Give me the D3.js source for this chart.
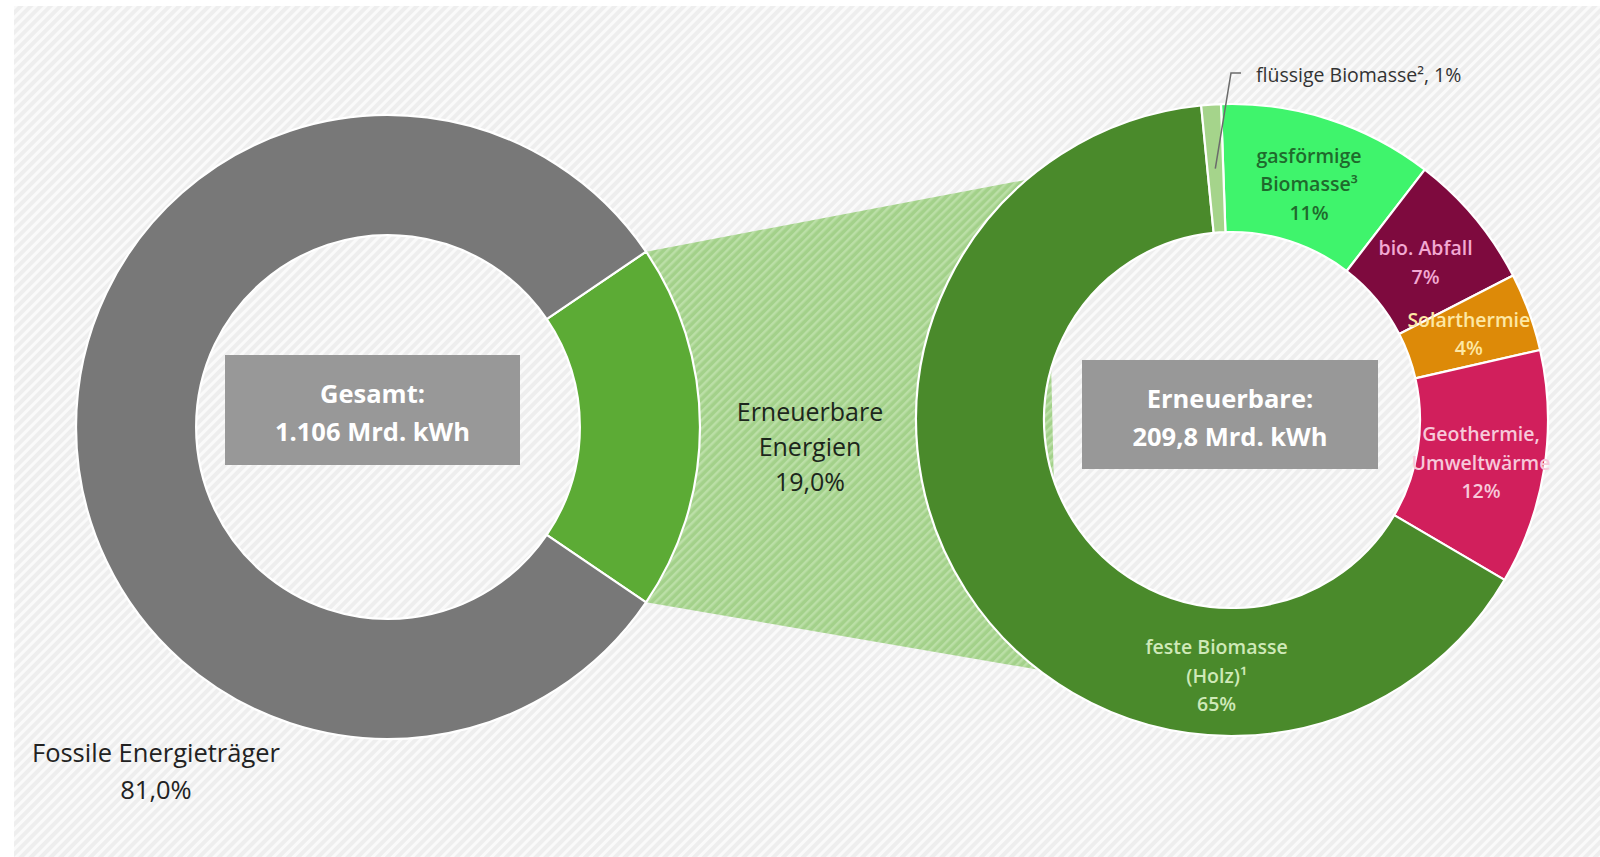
<!DOCTYPE html>
<html>
<head>
<meta charset="utf-8">
<script src="https://cdn.jsdelivr.net/npm/d3@7"></script>
<style>
  html, body { margin: 0; padding: 0; background: #ffffff; }
  svg { display: block; }
  text { font-family: "Open Sans", "Noto Sans", sans-serif; }
</style>
</head>
<body>
<svg id="chart" width="1600" height="857"></svg>
<script>
// Endenergieverbrauch für Wärme: Anteil der Erneuerbaren und ihre Zusammensetzung

// Gesamtverbrauch (Prozent)
const totalCategories = ["Erneuerbare Energien", "Fossile Energieträger"];
const totalShares = [19.0, 81.0];
const totalShareLabels = ["19,0%", "81,0%"];
const totalColors = ["#5cab35", "#787878"];
const totalCenterText = ["Gesamt:", "1.106 Mrd. kWh"];

// Erneuerbare Wärme nach Quelle (Prozent)
const renewableCategories = [
  "gasförmige Biomasse³", "bio. Abfall", "Solarthermie",
  "Geothermie, Umweltwärme", "feste Biomasse (Holz)¹", "flüssige Biomasse²"
];
const renewableShares = [11, 7, 4, 12, 65, 1];
const renewableNameLines = [
  ["gasförmige", "Biomasse³"],
  ["bio. Abfall"],
  ["Solarthermie"],
  ["Geothermie,", "Umweltwärme"],
  ["feste Biomasse", "(Holz)¹"],
  ["flüssige Biomasse²"]
];
const renewableShareLabels = ["11%", "7%", "4%", "12%", "65%", "1%"];
const renewableColors = ["#3ff46c", "#7e0a3e", "#dd8a08", "#d11f5c", "#4a8a2b", "#a5d48b"];
const renewableTextColors = ["#1f6a2c", "#f2a9d2", "#fde8a4", "#f7c9da", "#cfe9b8", "#333333"];
const renewableCenterText = ["Erneuerbare:", "209,8 Mrd. kWh"];

const svg = d3.select("#chart");
const defs = svg.append("defs");
const deg = Math.PI / 180;

// diagonal hatch patterns
function hatch(id, base, stripe, size, stripeWidth) {
  const p = defs.append("pattern")
    .attr("id", id)
    .attr("patternUnits", "userSpaceOnUse")
    .attr("width", size).attr("height", size)
    .attr("patternTransform", "rotate(45)");
  p.append("rect").attr("width", size).attr("height", size).attr("fill", base);
  p.append("rect").attr("width", stripeWidth).attr("height", size).attr("fill", stripe);
}
hatch("bgHatch", "#eeeeee", "#fafafa", 7, 3);
hatch("bridgeHatch", "#a3d18a", "#bbdfa7", 6, 2.5);

svg.append("rect").attr("width", 1600).attr("height", 857).attr("fill", "#ffffff");
svg.append("rect").attr("x", 14).attr("y", 6).attr("width", 1586).attr("height", 851)
  .attr("fill", "url(#bgHatch)");

// geometry
const left = { cx: 388, cy: 427, R: 312 };
left.r = left.R * 0.615;
const right = { cx: 1232, cy: 420, R: 316 };
right.r = right.R * 0.595;

// left donut: renewable slice centred on the right-hand side
const renewSpan = totalShares[0] / d3.sum(totalShares) * 2 * Math.PI;
const leftStart = Math.PI / 2 - renewSpan / 2;
const leftPie = d3.pie().sort(null).value(d => d)
  .startAngle(leftStart).endAngle(leftStart + 2 * Math.PI);
const leftArcs = leftPie(totalShares);
const leftArc = d3.arc().innerRadius(left.r).outerRadius(left.R);

// right donut
const rightStart = -2 * deg;
const rightPie = d3.pie().sort(null).value(d => d)
  .startAngle(rightStart).endAngle(rightStart + 2 * Math.PI);
const rightArcs = rightPie(renewableShares);
const rightArc = d3.arc().innerRadius(right.r).outerRadius(right.R);

// connecting band from the renewable slice to the right donut
const polar = (c, radius, a) => [c.cx + radius * Math.sin(a), c.cy - radius * Math.cos(a)];
const ra = leftArcs[0];
const bridgeTopR = -40.5 * deg, bridgeBotR = -142.2 * deg;
const inner = [
  polar(left, left.R * 0.93, ra.startAngle),
  polar(right, right.R * 0.9, bridgeTopR),
  polar(right, right.R * 0.9, bridgeBotR),
  polar(left, left.R * 0.93, ra.endAngle)
];
const topEdge = [polar(left, left.R, ra.startAngle), polar(right, right.R, bridgeTopR)];
const botEdge = [polar(left, left.R, ra.endAngle), polar(right, right.R, bridgeBotR)];
svg.append("path")
  .attr("d", "M" + topEdge[0] + "L" + topEdge[1] + "L" + inner[1] + "L" + inner[2] +
              "L" + botEdge[1] + "L" + botEdge[0] + "L" + inner[3] + "L" + inner[0] + "Z")
  .attr("fill", "url(#bridgeHatch)");

// draw donuts
const gL = svg.append("g").attr("transform", `translate(${left.cx},${left.cy})`);
gL.selectAll("path").data(leftArcs).join("path")
  .attr("d", leftArc)
  .attr("fill", (d, i) => totalColors[i])
  .attr("stroke", "#ffffff").attr("stroke-width", 2.2).attr("stroke-linejoin", "round");

const gR = svg.append("g").attr("transform", `translate(${right.cx},${right.cy})`);
gR.selectAll("path").data(rightArcs).join("path")
  .attr("d", rightArc)
  .attr("fill", (d, i) => renewableColors[i])
  .attr("stroke", "#ffffff").attr("stroke-width", 2.2).attr("stroke-linejoin", "round");

// centre boxes
function centerBox(x0, y0, w, h, lines) {
  svg.append("rect").attr("x", x0).attr("y", y0).attr("width", w).attr("height", h).attr("fill", "#989898");
  const t = svg.append("text").attr("text-anchor", "middle")
    .attr("fill", "#ffffff").attr("font-weight", 700).attr("font-size", 25.5);
  lines.forEach((s, i) => {
    t.append("tspan").attr("x", x0 + w / 2).attr("y", y0 + h / 2 - 7 + i * 38).text(s);
  });
}
centerBox(225, 355, 295, 110, totalCenterText);
centerBox(1082, 360, 296, 109, renewableCenterText);

// labels of the total donut
function multiline(x, y, lines, size, lh, color, weight) {
  const t = svg.append("text").attr("text-anchor", "middle")
    .attr("font-size", size).attr("fill", color).attr("font-weight", weight || 400);
  lines.forEach((s, i) => t.append("tspan").attr("x", x).attr("y", y + i * lh).text(s));
  return t;
}
multiline(810, 421, ["Erneuerbare", "Energien", totalShareLabels[0]], 25, 35, "#1c261c");
multiline(156, 762, ["Fossile Energieträger", totalShareLabels[1]], 25.5, 37, "#222222");

// labels of the renewable donut, placed at slice centroids
const labelR = (right.R + right.r) / 2;
rightArcs.forEach((d, i) => {
  if (i === 5) return;
  let a = (d.startAngle + d.endAngle) / 2;
  if (i === 4) a = 183.5 * deg;           // feste Biomasse sits at the bottom
  const [x, y] = polar(right, labelR, a);
  const lines = renewableNameLines[i].concat([renewableShareLabels[i]]);
  const lh = 28.5;
  const y0 = y - (lines.length - 1) * lh / 2 + (i === 2 ? 7 : 11);
  multiline(x, y0, lines, 19.5, lh, renewableTextColors[i], 600);
});

// leader for the small liquid-biomass slice
const fl = rightArcs[5];
const flA = (fl.startAngle + fl.endAngle) / 2;
const flIn = polar(right, labelR, flA);
svg.append("path")
  .attr("d", `M${flIn[0]},${flIn[1]}L1231,73L1241,73`)
  .attr("fill", "none").attr("stroke", "#6b6b6b").attr("stroke-width", 1.5);
svg.append("text").attr("x", 1256).attr("y", 82)
  .attr("font-size", 19.5).attr("fill", renewableTextColors[5])
  .text(renewableNameLines[5][0] + ", " + renewableShareLabels[5]);
</script>
</body>
</html>
